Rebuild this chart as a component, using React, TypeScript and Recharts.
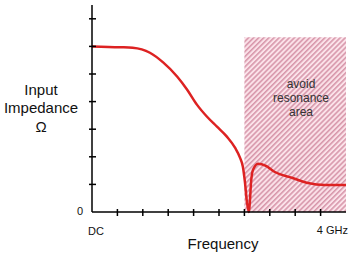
import { LineChart, Line, XAxis, YAxis, ReferenceArea, Label } from 'recharts';

// frequency in tick units (DC = 0, 4 GHz = 10), impedance in tick units
const freq = [
  0, 1.1, 1.6, 2.28, 2.8, 3.35, 3.74, 4.13, 4.53, 4.92, 5.31, 5.63, 5.83, 5.94,
  6.02, 6.1, 6.18, 6.22, 6.26, 6.34, 6.54, 6.85, 7.2, 7.87, 8.5, 9.17, 10,
];
const impedance = [
  6.0, 5.97, 5.95, 5.77, 5.42, 4.91, 4.44, 3.89, 3.45, 3.09, 2.73, 2.33, 1.96, 1.64,
  1.09, 0.36, 0, 0.44, 1.05, 1.53, 1.75, 1.67, 1.45, 1.24, 1.05, 0.98, 0.98,
];
const xTicks = [0, 1, 2, 3, 4, 5, 6, 7, 8, 9, 10];
const yTicks = [0, 1, 2, 3, 4, 5, 6, 7];
const resonanceStart = 6;
const resonanceEnd = 10;
const resonanceTop = 6.33;

const data = freq.map((f, i) => ({ freq: f, impedance: impedance[i] }));

const FONT = 'Arial, "Liberation Sans", sans-serif';

const XTick = (props: any) => {
  const { x, y, payload } = props;
  const v = payload.value;
  return (
    <g>
      {v > 0 && v < 10 && (
        <line x1={x} y1={y - 3} x2={x} y2={y + 4} stroke="#000" strokeWidth={1.5} />
      )}
      {v === 0 && (
        <text x={x + 4} y={y + 23} textAnchor="middle" fontSize={11} fontFamily={FONT} fill="#111">
          DC
        </text>
      )}
      {v === 10 && (
        <text x={x + 2} y={y + 22} textAnchor="end" fontSize={11} fontFamily={FONT} fill="#111">
          4 GHz
        </text>
      )}
    </g>
  );
};

const YTick = (props: any) => {
  const { x, y, payload } = props;
  const v = payload.value;
  if (v === 0) {
    return (
      <text x={x - 12} y={y + 3} textAnchor="middle" fontSize={11} fontFamily={FONT} fill="#111">
        0
      </text>
    );
  }
  return <line x1={x - 3} y1={y} x2={x + 4} y2={y} stroke="#000" strokeWidth={1.5} />;
};

const yTitle = () => (
  <text textAnchor="middle" fontSize={15} fontFamily={FONT} fill="#111">
    <tspan x={41} y={95}>Input</tspan>
    <tspan x={41} y={113}>Impedance</tspan>
    <tspan x={41} y={132}>Ω</tspan>
  </text>
);

const xTitle = () => (
  <text x={223} y={249} textAnchor="middle" fontSize={15} fontFamily={FONT} fill="#111">
    Frequency
  </text>
);

const areaLabel = () => (
  <text textAnchor="middle" fontSize={12} fontFamily={FONT} fill="#333">
    <tspan x={301} y={88}>avoid</tspan>
    <tspan x={301} y={102}>resonance</tspan>
    <tspan x={301} y={116}>area</tspan>
  </text>
);

export default function App() {
  return (
    <div style={{ position: 'absolute', left: 0, top: 0 }}>
      <LineChart width={356} height={257} data={data} margin={{ top: 5, right: 10, bottom: 0, left: 0 }}>
        <defs>
          <pattern id="hatch" patternUnits="userSpaceOnUse" width={3.6} height={3.6} patternTransform="rotate(45)">
            <rect x={0} y={0} width={3.6} height={3.6} fill="#ee8aa8" fillOpacity={0.25} />
            <rect x={0} y={0} width={1.6} height={3.6} fill="#c06682" fillOpacity={0.6} />
          </pattern>
        </defs>
        <XAxis
          dataKey="freq"
          type="number"
          domain={[0, 10]}
          ticks={xTicks}
          interval={0}
          height={45}
          tickSize={0}
          tickMargin={0}
          tick={XTick}
          axisLine={{ stroke: '#000', strokeWidth: 1.5 }}
          tickLine={false}
        >
          <Label content={xTitle} />
        </XAxis>
        <YAxis
          type="number"
          domain={[0, 7.5]}
          ticks={yTicks}
          interval={0}
          width={92}
          tickSize={0}
          tickMargin={0}
          tick={YTick}
          axisLine={{ stroke: '#000', strokeWidth: 1.5 }}
          tickLine={false}
        >
          <Label content={yTitle} />
        </YAxis>
        <Line
          dataKey="impedance"
          type="monotone"
          stroke="#dd2222"
          strokeWidth={2.5}
          dot={false}
          isAnimationActive={false}
        />
        <ReferenceArea
          x1={resonanceStart}
          x2={resonanceEnd}
          y1={0}
          y2={resonanceTop}
          fill="url(#hatch)"
          fillOpacity={1}
          stroke="none"
          label={areaLabel}
        />
      </LineChart>
    </div>
  );
}
